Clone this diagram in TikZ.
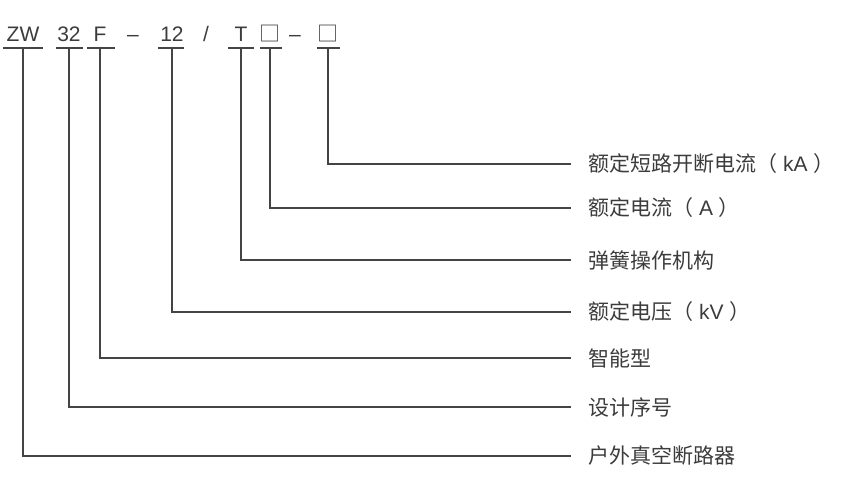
\documentclass[tikz,border=0pt]{standalone}
\usepackage{fontspec}
\setmainfont{Liberation Sans}
\newfontfamily\cjk{Noto Sans CJK SC}
\definecolor{lc}{HTML}{444444}
\definecolor{tc}{HTML}{3C3C3C}
\begin{document}
\begin{tikzpicture}[x=1pt,y=-1pt]
\tikzset{
  code/.style={font=\fontsize{21}{25}\selectfont, text=tc, anchor=base, inner sep=0pt},
  lab/.style={font=\fontsize{21}{25}\selectfont, text=tc, anchor=west, inner sep=0pt},
  wire/.style={draw=lc, line width=1.3pt},
}
\useasboundingbox (0,0) rectangle (848,497);
% code string
\node[code] (zw)  at (23,42)  {ZW};
\node[code] (n32) at (69,42)  {32};
\node[code] (f)   at (100,42) {F};
\node[code] (d1)  at (133,42) {–};
\node[code] (n12) at (172,42) {12};
\node[code] (sl)  at (206,42) {/};
\node[code] (t)   at (241,42) {T};
\node[code] (b1)  at (270,42) {\cjk □};
\node[code] (d2)  at (295,42) {–};
\node[code] (b2)  at (328,42) {\cjk □};
% labels
\node[lab] (l1) at (588,164) {{\cjk 额定短路开断电流（} kA {\cjk ）}};
\node[lab] (l2) at (588,208) {{\cjk 额定电流（} A {\cjk ）}};
\node[lab] (l3) at (588,260) {{\cjk 弹簧操作机构}};
\node[lab] (l4) at (588,312) {{\cjk 额定电压（} kV {\cjk ）}};
\node[lab] (l5) at (588,358) {{\cjk 智能型}};
\node[lab] (l6) at (588,407) {{\cjk 设计序号}};
\node[lab] (l7) at (588,456) {{\cjk 户外真空断路器}};
% underlines
\draw[wire] (3,48) -- (43,48);
\draw[wire] (56,48) -- (83,48);
\draw[wire] (87,48) -- (115,48);
\draw[wire] (158,48) -- (184,48);
\draw[wire] (228,48) -- (254,48);
\draw[wire] (260,48) -- (282,48);
\draw[wire] (317,48) -- (340,48);
% leaders
\draw[wire] (zw.base  |- 0,48) -- (zw.base  |- l7.west) -- ([xshift=-17pt]l7.west);
\draw[wire] (n32.base |- 0,48) -- (n32.base |- l6.west) -- ([xshift=-17pt]l6.west);
\draw[wire] (f.base   |- 0,48) -- (f.base   |- l5.west) -- ([xshift=-17pt]l5.west);
\draw[wire] (n12.base |- 0,48) -- (n12.base |- l4.west) -- ([xshift=-17pt]l4.west);
\draw[wire] (t.base   |- 0,48) -- (t.base   |- l3.west) -- ([xshift=-17pt]l3.west);
\draw[wire] (b1.base  |- 0,48) -- (b1.base  |- l2.west) -- ([xshift=-17pt]l2.west);
\draw[wire] (b2.base  |- 0,48) -- (b2.base  |- l1.west) -- ([xshift=-17pt]l1.west);
\end{tikzpicture}
\end{document}
